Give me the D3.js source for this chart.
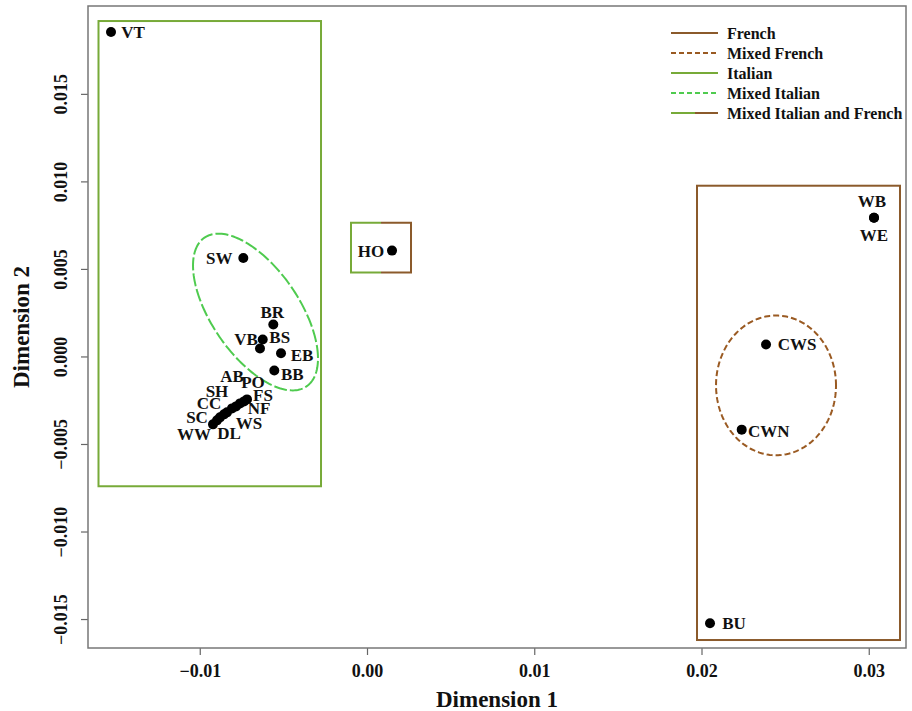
<!DOCTYPE html>
<html><head><meta charset="utf-8">
<script src="https://cdn.jsdelivr.net/npm/d3@7"></script>
<style>body{margin:0;background:#fff}svg{display:block}</style>
</head><body>
<svg id="c" width="912" height="711"></svg>
<script>
// ---- data ----
const pointNames = ["VT","SW","BR","BS","VB","EB","BB","WW","DL","SC","WS","CC","NF","SH","FS","AB","PO","HO","WB","WE","CWS","CWN","BU"];
const dim1 = [-0.015306,-0.007396,-0.005602,-0.006236,-0.006398,-0.005142,-0.005543,-0.009208,-0.008969,-0.008789,-0.008550,-0.008371,-0.008072,-0.007833,-0.007593,-0.007354,-0.007175,0.001495,0.030314,0.030314,0.023857,0.022404,0.020508];
const dim2 = [0.018536,0.005629,0.001825,0.000970,0.000456,0.000188,-0.000798,-0.003878,-0.003650,-0.003479,-0.003308,-0.003194,-0.002966,-0.002852,-0.002681,-0.002567,-0.002453,0.006046,0.007928,0.007928,0.000684,-0.004181,-0.015245];
const xTicks = [-0.01,0.00,0.01,0.02,0.03];
const yTicks = [-0.015,-0.010,-0.005,0.000,0.005,0.010,0.015];
const legendLabels = ["French","Mixed French","Italian","Mixed Italian","Mixed Italian and French"];
// group boxes [xmin, xmax, ymax, ymin]
const italianBox = [-0.016054,-0.002750,0.019160,-0.007415];
const frenchBox = [0.019731,0.031868,0.009753,-0.016198];
const mixedBox = [-0.000957,0.002631,0.007643,0.004791];
// ellipses: centre and two semi-axis vectors (data units)
const mixedItalianEllipse = [-0.006667,0.002538, 0.003049,-0.004249, 0.002159,0.001409];
const mixedFrenchEllipse = [0.024455,-0.001654, 0.003587,0, 0,0.003992];

// ---- layout / style ----
const W=912,H=711;
const plot={l:88,r:906,t:6,b:648};
const brown="#8b5a2b", green="#77aa38", lightGreen="#4fcb4f", mixedBrown="#9a5a22";
const font="'Liberation Serif','Times New Roman',serif";
const labelOffsets={VT:[22,0],SW:[-24,0],BR:[-1,-12],BS:[17,-2],VB:[-14,-9],EB:[21,2],BB:[18,4],
  WW:[-19,10],DL:[12,13],SC:[-23,0],WS:[25,9],CC:[-18,-9],NF:[27,0],SH:[-19,-15],FS:[23,-8],AB:[-12,-25],PO:[6,-17],
  HO:[-21,0],WB:[-2,-17],WE:[0,17],CWS:[31,0],CWN:[27,1],BU:[24,0]};

const x=d3.scaleLinear().domain([-0.016682,0.032227]).range([plot.l,plot.r]);
const y=d3.scaleLinear().domain([-0.016654,0.020019]).range([plot.b,plot.t]);

const svg=d3.select("#c").style("font-family",font).style("font-weight","bold");
svg.append("rect").attr("width",W).attr("height",H).attr("fill","#fff");

// axes
const xAxis=d3.axisBottom(x).tickValues(xTicks).tickFormat(d3.format(".2f")).tickSize(7).tickSizeOuter(0);
const gx=svg.append("g").attr("transform",`translate(0,${plot.b})`).call(xAxis);
gx.select(".domain").remove();
gx.selectAll("line").attr("stroke","#666").attr("stroke-width",1.2);
gx.selectAll("text").attr("font-family",font).attr("font-weight","bold").attr("font-size",18).attr("fill","#111").attr("dy","1.05em");

const yAxis=d3.axisLeft(y).tickValues(yTicks).tickFormat(d3.format(".3f")).tickSize(7).tickSizeOuter(0);
const gy=svg.append("g").attr("transform",`translate(${plot.l},0)`).call(yAxis);
gy.select(".domain").remove();
gy.selectAll("line").attr("stroke","#666").attr("stroke-width",1.2);
gy.selectAll("text").attr("font-family",font).attr("font-weight","bold").attr("font-size",18).attr("fill","#111")
  .attr("text-anchor","middle").attr("x",0).attr("y",0).attr("dy",0)
  .attr("transform","translate(-21,0) rotate(-90)");

svg.append("rect").attr("x",plot.l).attr("y",plot.t).attr("width",plot.r-plot.l).attr("height",plot.b-plot.t)
  .attr("fill","none").attr("stroke","#777").attr("stroke-width",1.5);

svg.append("text").attr("x",(plot.l+plot.r)/2).attr("y",707).attr("text-anchor","middle").attr("font-size",23).attr("fill","#111").text("Dimension 1");
svg.append("text").attr("transform",`translate(29,${(plot.t+plot.b)/2}) rotate(-90)`).attr("text-anchor","middle").attr("font-size",23).attr("fill","#111").text("Dimension 2");

// boxes
function box(b,color){
  svg.append("rect").attr("x",x(b[0])).attr("y",y(b[2])).attr("width",x(b[1])-x(b[0])).attr("height",y(b[3])-y(b[2]))
    .attr("fill","none").attr("stroke",color).attr("stroke-width",2);
}
box(italianBox,green);
box(frenchBox,brown);
// mixed box: green left half, brown right half
{
  const b=mixedBox, xm=(b[0]+b[1])/2;
  const l=d3.path(); l.moveTo(x(xm),y(b[2])); l.lineTo(x(b[0]),y(b[2])); l.lineTo(x(b[0]),y(b[3])); l.lineTo(x(xm),y(b[3]));
  svg.append("path").attr("d",l.toString()).attr("fill","none").attr("stroke",green).attr("stroke-width",2);
  const r=d3.path(); r.moveTo(x(xm),y(b[2])); r.lineTo(x(b[1]),y(b[2])); r.lineTo(x(b[1]),y(b[3])); r.lineTo(x(xm),y(b[3]));
  svg.append("path").attr("d",r.toString()).attr("fill","none").attr("stroke",brown).attr("stroke-width",2);
}
// ellipses
function ellipse(e,color,dash){
  const pts=d3.range(0,361,2).map(a=>{const t=a*Math.PI/180;return [e[0]+e[2]*Math.cos(t)+e[4]*Math.sin(t), e[1]+e[3]*Math.cos(t)+e[5]*Math.sin(t)];});
  const line=d3.line().x(d=>x(d[0])).y(d=>y(d[1])).curve(d3.curveLinearClosed);
  svg.append("path").attr("d",line(pts)).attr("fill","none").attr("stroke",color).attr("stroke-width",2).attr("stroke-dasharray",dash);
}
ellipse(mixedItalianEllipse,lightGreen,"13,3");
ellipse(mixedFrenchEllipse,mixedBrown,"6,3");

// points
const pts=pointNames.map((n,i)=>({n,x:dim1[i],y:dim2[i]}));
svg.append("g").selectAll("circle").data(pts).join("circle")
  .attr("cx",d=>x(d.x)).attr("cy",d=>y(d.y)).attr("r",5).attr("fill","#000");
svg.append("g").selectAll("text").data(pts).join("text")
  .attr("x",d=>x(d.x)+labelOffsets[d.n][0]).attr("y",d=>y(d.y)+labelOffsets[d.n][1])
  .attr("dy","0.35em").attr("text-anchor","middle").attr("font-size",17).attr("fill","#111").text(d=>d.n);

// legend
const lg=svg.append("g").attr("transform","translate(671,33)");
const legendStyles=[[brown,null],[mixedBrown,"5,3"],[green,null],[lightGreen,"5,3"],["split",null]];
legendLabels.forEach((lab,i)=>{
  const yy=i*20, st=legendStyles[i];
  if(st[0]==="split"){
    lg.append("line").attr("x1",0).attr("x2",24).attr("y1",yy).attr("y2",yy).attr("stroke",green).attr("stroke-width",2);
    lg.append("line").attr("x1",24).attr("x2",47).attr("y1",yy).attr("y2",yy).attr("stroke",brown).attr("stroke-width",2);
  } else {
    lg.append("line").attr("x1",0).attr("x2",47).attr("y1",yy).attr("y2",yy).attr("stroke",st[0]).attr("stroke-width",2).attr("stroke-dasharray",st[1]);
  }
  lg.append("text").attr("x",56).attr("y",yy).attr("dy","0.35em").attr("font-size",16).attr("fill","#111").text(lab);
});
</script>
</body></html>
